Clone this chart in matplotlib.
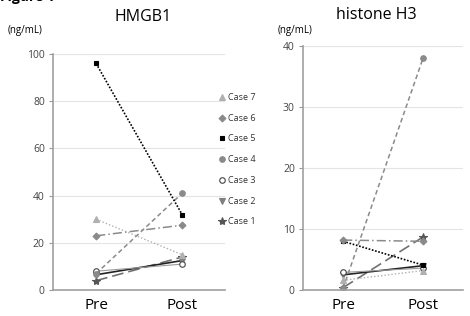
import matplotlib
matplotlib.use('Agg')
import matplotlib.pyplot as plt
from matplotlib.lines import Line2D

plt.rcParams['font.family'] = ['Open Sans', 'DejaVu Sans']

TIMES = ['Pre', 'Post']
CASES = ['Case 1', 'Case 2', 'Case 3', 'Case 4', 'Case 5', 'Case 6', 'Case 7']

# values, [Pre, Post]
HMGB1 = {
    'Case 1': [4, 14],
    'Case 2': [6.5, 12.5],
    'Case 3': [8, 11],
    'Case 4': [7, 41],
    'Case 5': [96, 32],
    'Case 6': [23, 27.5],
    'Case 7': [30, 15],
}
H3 = {
    'Case 1': [0.4, 8.7],
    'Case 2': [2.5, 4.0],
    'Case 3': [2.9, 3.6],
    'Case 4': [0.3, 38],
    'Case 5': [8.0, 4.1],
    'Case 6': [8.2, 8.0],
    'Case 7': [1.6, 3.2],
}

# marker, marker size, face, edge, line colour, linestyle, linewidth
STYLE = {
    'Case 1': ('*', 6, '#555555', '#555555', '#707070', (0, (7, 3)), 1.2),
    'Case 2': ('v', 4, '#808080', '#808080', '#222222', '-', 1.2),
    'Case 3': ('o', 4, 'white', '#444444', '#9a9a9a', '-', 0.8),
    'Case 4': ('o', 4, '#8a8a8a', '#8a8a8a', '#8a8a8a', (0, (3, 2)), 1.1),
    'Case 5': ('s', 3.5, 'black', 'black', 'black', (0, (1, 1)), 1.2),
    'Case 6': ('D', 3.5, '#8a8a8a', '#8a8a8a', '#8a8a8a', (0, (6, 2, 1, 2)), 1.1),
    'Case 7': ('^', 4, '#b0b0b0', '#b0b0b0', '#b0b0b0', (0, (1, 1.5)), 1.0),
}


def draw_panel(ax, data, ymax, step):
    for case in CASES:
        m, ms, fc, ec, lc, ls, lw = STYLE[case]
        ax.plot([0, 1], data[case], color=lc, linestyle=ls, linewidth=lw,
                marker=m, markersize=ms, markerfacecolor=fc, markeredgecolor=ec,
                markeredgewidth=0.8)
    ax.set_xlim(-0.5, 1.5)
    ax.set_ylim(0, ymax)
    ax.set_yticks(range(0, ymax + 1, step))
    ax.set_xticks([0, 1])
    ax.set_xticklabels(TIMES, fontsize=11)
    ax.tick_params(axis='x', length=0, pad=6)
    ax.tick_params(axis='y', length=3, color='#999999', labelsize=7.5,
                   labelcolor='#444444', pad=3)
    ax.grid(axis='y', color='#e4e4e4', linewidth=0.8)
    ax.set_axisbelow(True)
    for s in ['top', 'right']:
        ax.spines[s].set_visible(False)
    ax.spines['left'].set_color('#a0a0a0')
    ax.spines['left'].set_linewidth(1.2)
    ax.spines['bottom'].set_color('#a0a0a0')
    ax.spines['bottom'].set_linewidth(1.2)


fig = plt.figure(figsize=(4.7, 3.16), dpi=100)
ax1 = fig.add_axes([0.113, 0.082, 0.366, 0.747])
ax2 = fig.add_axes([0.645, 0.082, 0.34, 0.772])

draw_panel(ax1, HMGB1, 100, 20)
draw_panel(ax2, H3, 40, 10)

fig.text(0.305, 0.945, 'HMGB1', ha='center', va='center', fontsize=11.5)
fig.text(0.80, 0.952, 'histone H3', ha='center', va='center', fontsize=11.5)
fig.text(0.017, 0.905, '(ng/mL)', ha='left', va='center', fontsize=7)
fig.text(0.59, 0.902, '(ng/mL)', ha='left', va='center', fontsize=7)
# header cut off at the top edge in the original scan
fig.text(0.0, 0.997, 'Figure 1', ha='left', va='baseline', fontsize=10, fontweight='bold')

handles = []
for case in reversed(CASES):
    m, ms, fc, ec, lc, ls, lw = STYLE[case]
    handles.append(Line2D([], [], linestyle='none', marker=m, markersize=ms,
                          markerfacecolor=fc, markeredgecolor=ec, markeredgewidth=0.8))
fig.legend(handles, list(reversed(CASES)), loc='upper left',
           bbox_to_anchor=(0.455, 0.72), frameon=False, fontsize=6.5,
           handlelength=0.8, handletextpad=0.3, labelspacing=1.3,
           labelcolor='#333333', borderpad=0)

fig.savefig('out.png', dpi=100)
